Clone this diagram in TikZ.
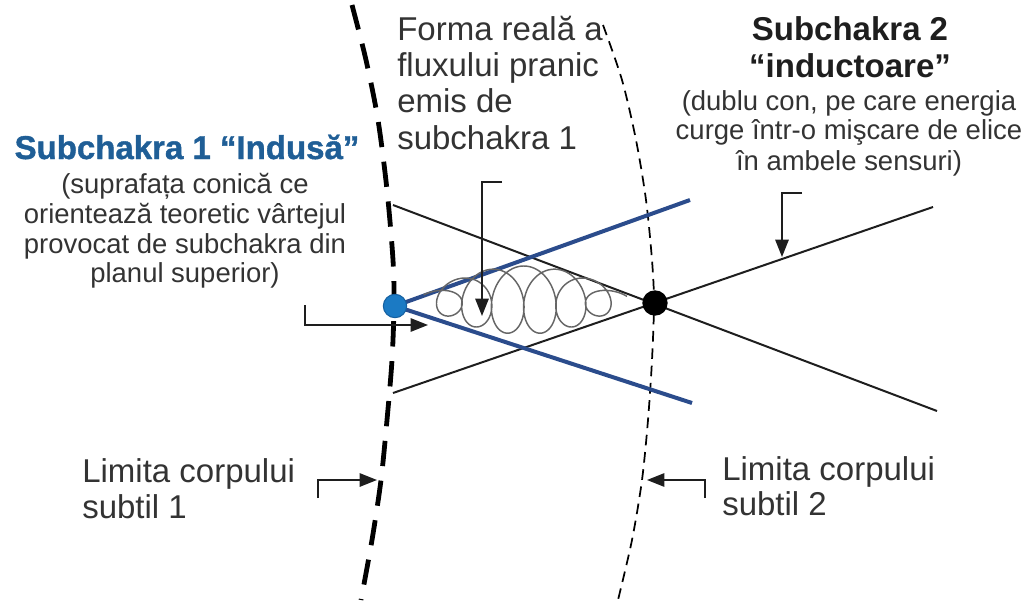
\documentclass[tikz,border=0pt]{standalone}
\usepackage{fontspec}
\setmainfont{Liberation Sans}
\newfontfamily\heavyfont[FakeBold=1.2]{Liberation Sans Bold}
\usetikzlibrary{arrows.meta}
\definecolor{txtgray}{HTML}{333333}
\definecolor{titleblue}{HTML}{1F5E96}
\definecolor{lineblue}{HTML}{2B4C8C}
\definecolor{dotblue}{HTML}{1B7AC4}
\definecolor{dotedge}{HTML}{1560A0}
\definecolor{coilgray}{HTML}{666666}
\definecolor{ink}{HTML}{1E1E1E}
\begin{document}
\begin{tikzpicture}[x=0.75pt,y=-0.75pt,
  bigtxt/.style={font=\fontsize{24.75}{27}\selectfont, text=txtgray, inner sep=0pt},
  smalltxt/.style={font=\fontsize{20.6}{22}\selectfont, text=txtgray, inner sep=0pt, anchor=base},
  titletxt/.style={font=\bfseries\fontsize{24.75}{27}\selectfont, inner sep=0pt, anchor=base},
  limit1/.style={line width=3.6pt, dash pattern=on 19pt off 11pt},
  limit2/.style={line width=1.3pt, dash pattern=on 8pt off 5pt},
  blackline/.style={line width=1.5pt, draw=ink},
  blueline/.style={line width=3pt, draw=lineblue},
  coil/.style={line width=1.1pt, draw=coilgray},
  callout/.style={line width=1.4pt, draw=ink, -{Triangle[length=13pt,width=10pt]}},
  bluedot/.style={circle, fill=dotblue, draw=dotedge, line width=0.8pt, minimum size=17.5pt, inner sep=0pt},
  blackdot/.style={circle, fill=black, minimum size=19pt, inner sep=0pt}
]
\useasboundingbox (0,0) rectangle (1028,600);

% body limits
\draw[limit1] plot[smooth] coordinates {(352,5) (366,60) (378,120) (387,190) (393,260) (394,305) (392,360) (387,420) (381,480) (372,540) (361,600)};
\draw[limit2] plot[smooth] coordinates {(603,25) (622,80) (636,140) (646,200) (652,260) (654,303) (652,360) (648,420) (642,480) (632,540) (618,600)};

% points
\coordinate (p1) at (395,306);
\coordinate (p2) at (655,303);

% double cone (black)
\coordinate (ka) at (393,205);
\coordinate (kb) at (937,411);
\coordinate (kc) at (393,393);
\coordinate (kd) at (933,207);
\draw[blackline] (ka) -- (kb);
\draw[blackline] (kc) -- (kd);

% blue cone
\coordinate (ba) at (690,200);
\coordinate (bb) at (692,403);
\draw[blueline] (p1) -- (ba);
\draw[blueline] (p1) -- (bb);

% coil
\draw[coil] plot[domain=0.12:6.42, samples=900, variable=\s, smooth]
  ({432.8 + 21*\s + 22.76*(1-cos(27.69*\s)) - (15.75+8.25*sin(27.69*\s))*cos(360*\s)},
   {300 - (6+28*sin(27.69*\s))*sin(360*\s)});

\node[bluedot] (s1) at (p1) {};
\node[blackdot] (s2) at (p2) {};

% callouts
\coordinate (a1s) at (305,305); \coordinate (a1m) at (305,325); \coordinate (a1t) at (428,325);
\draw[callout] (a1s) -- (a1m) -- (a1t);
\coordinate (a2s) at (502,182); \coordinate (a2m) at (482,182); \coordinate (a2t) at (482,316);
\draw[callout] (a2s) -- (a2m) -- (a2t);
\coordinate (a3s) at (802,193); \coordinate (a3m) at (782,193); \coordinate (a3t) at (782,257);
\draw[callout] (a3s) -- (a3m) -- (a3t);
\coordinate (a4s) at (318,498); \coordinate (a4m) at (318,480); \coordinate (a4t) at (377,480);
\draw[callout] (a4s) -- (a4m) -- (a4t);
\coordinate (a5s) at (705,498); \coordinate (a5m) at (705,480); \coordinate (a5t) at (647,480);
\draw[callout] (a5s) -- (a5m) -- (a5t);

% left title and description
\node[inner sep=0pt, anchor=base, text=titleblue, font=\heavyfont\fontsize{24.75}{27}\selectfont] (t1) at (187,159) {Subchakra 1 “Indusă”};
\node[smalltxt] (d1a) at (185,193) {(suprafața conică ce};
\node[smalltxt] (d1b) at (185,223) {orientează teoretic vârtejul};
\node[smalltxt] (d1c) at (185,253) {provocat de subchakra din};
\node[smalltxt] (d1d) at (185,282) {planul superior)};

% flow label
\node[bigtxt, anchor=base west] (f1) at (397,40) {Forma reală a};
\node[bigtxt, anchor=base west] (f2) at (397,76) {fluxului pranic};
\node[bigtxt, anchor=base west] (f3) at (397,112) {emis de};
\node[bigtxt, anchor=base west] (f4) at (397,149) {subchakra 1};

% right title and description
\node[titletxt, text=ink] (t2a) at (850,40) {Subchakra 2};
\node[titletxt, text=ink] (t2b) at (850,77) {“inductoare”};
\node[smalltxt] (d2a) at (849,110) {(dublu con, pe care energia};
\node[smalltxt] (d2b) at (849,139) {curge într-o mişcare de elice};
\node[smalltxt] (d2c) at (849,170) {în ambele sensuri)};

% limits labels
\node[bigtxt, anchor=base west] (l1a) at (82,482) {Limita corpului};
\node[bigtxt, anchor=base west] (l1b) at (82,518) {subtil 1};
\node[bigtxt, anchor=base west] (l2a) at (722,480) {Limita corpului};
\node[bigtxt, anchor=base west] (l2b) at (722,515) {subtil 2};
\end{tikzpicture}
\end{document}
